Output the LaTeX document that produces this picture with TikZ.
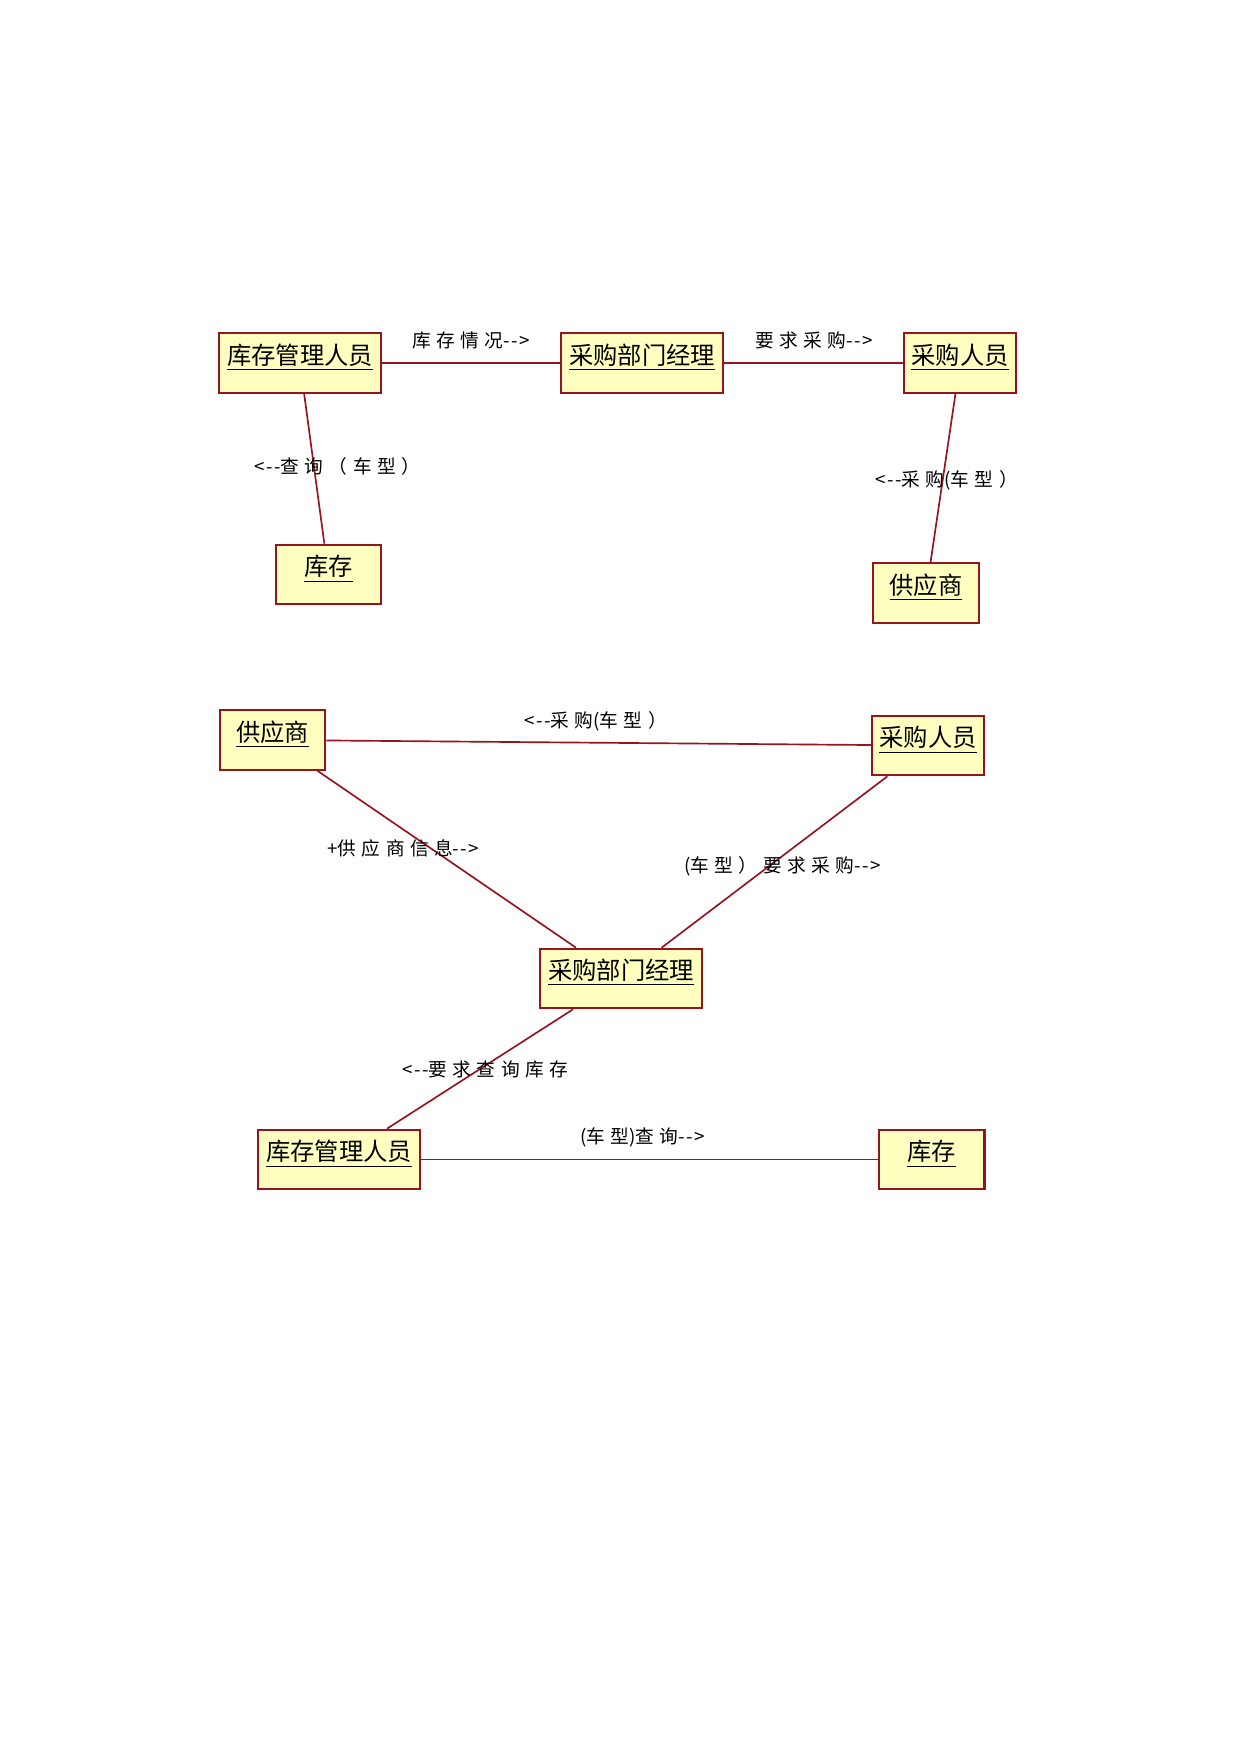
\documentclass[tikz,border=0pt]{standalone}
\usepackage{fontspec}
\setmainfont{Noto Sans CJK SC}
\newfontfamily\lblfont[LetterSpace=29]{Noto Sans CJK SC}
\newfontfamily\lblascii[LetterSpace=8]{Noto Sans CJK SC}
\newcommand\tightpart[1]{{\lblascii #1}}
\definecolor{umlred}{RGB}{150,20,30}
\definecolor{umlfill}{RGB}{255,255,192}
\begin{document}
\begin{tikzpicture}[x=0.4797bp,y=-0.4797bp,
  objbox/.style={draw=umlred, fill=umlfill, line width=1bp, inner sep=0pt, minimum height=28.6bp},
  wbox/.style={objbox, minimum width=77.7bp},
  mbox/.style={objbox, minimum width=53.7bp},
  nbox/.style={objbox, minimum width=50.8bp},
  objname/.style={anchor=base, yshift=-15.5bp, inner sep=0pt, font=\fontsize{11.7}{14}\selectfont},
  link/.style={draw=umlred, line width=0.8bp},
  msg/.style={anchor=west, inner sep=0pt, font=\lblfont\fontsize{9}{11}\selectfont}]
\useasboundingbox (0,0) rectangle (1241,1754);
% ---- top diagram ----
\node[wbox, label={[objname]north:\underline{库存管理人员}}] (a1) at (300,363) {};
\node[wbox, label={[objname]north:\underline{采购部门经理}}] (b1) at (642,363) {};
\node[mbox, label={[objname]north:\underline{采购人员}}] (c1) at (960,363) {};
\node[nbox, label={[objname]north:\underline{库存}}] (d1) at (328.5,574.5) {};
\node[nbox, label={[objname]north:\underline{供应商}}] (e1) at (926,593) {};
\draw[link] (a1) -- (b1);
\draw[link] (b1) -- (c1);
\draw[link] (a1) -- (d1);
\draw[link] (c1) -- (e1);
\node[msg] (m1) at (412,340) {库存情况\tightpart{-{}->}};
\node[msg] (m2) at (755,340) {要求采购\tightpart{-{}->}};
\node[msg] (m3) at (254,466) {\tightpart{<-{}-}查询（车型）};
\node[msg] (m4) at (875,480) {\tightpart{<-{}-}采购\tightpart{(}车型）};
% ---- bottom diagram ----
\node[nbox, label={[objname]north:\underline{供应商}}] (f) at (272.5,740) {};
\node[mbox, label={[objname]north:\underline{采购人员}}] (g) at (928,745.5) {};
\node[wbox, label={[objname]north:\underline{采购部门经理}}] (h) at (621,978.5) {};
\node[wbox, label={[objname]north:\underline{库存管理人员}}] (i) at (339,1159.5) {};
\node[nbox, label={[objname]north:\underline{库存}}] (j) at (931.5,1159.5) {};
\draw[link] (f) -- (g);
\draw[link] (f) -- (h);
\draw[link] (g) -- (h);
\draw[link] (h) -- (i);
\draw[link] (i) -- (j);
\node[msg] (m5) at (524,721) {\tightpart{<-{}-}采购\tightpart{(}车型）};
\node[msg] (m6) at (327,848) {\tightpart{+}供应商信息\tightpart{-{}->}};
\node[msg] (m7) at (684,866) {\tightpart{(}车型）要求采购\tightpart{-{}->}};
\node[msg] (m8) at (402,1069) {\tightpart{<-{}-}要求查询库存};
\node[msg] (m9) at (580,1137) {\tightpart{(}车型\tightpart{)}查询\tightpart{-{}->}};
\end{tikzpicture}
\end{document}
